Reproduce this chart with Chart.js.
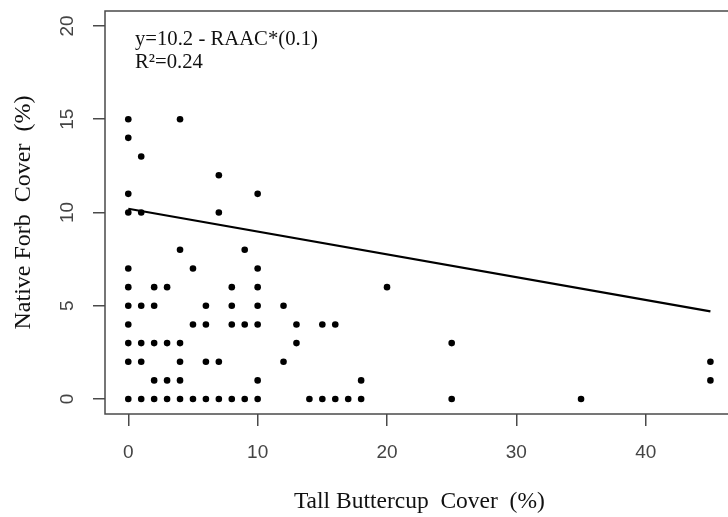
<!DOCTYPE html>
<html>
<head>
<meta charset="utf-8">
<script src="https://cdn.jsdelivr.net/npm/chart.js@4/dist/chart.umd.min.js"></script>
<style>
  html, body { margin: 0; padding: 0; background: #ffffff; overflow: hidden; width: 728px; height: 517px; }
  canvas { display: block; }
</style>
</head>
<body>
<canvas id="c" width="737" height="517"></canvas>
<script>
// Tall buttercup cover (%) for each plot
const buttercupCover = [
  0,0,0,0,0,0,0,0,0,0,0,
  1,1,1,1,1,1,
  2,2,2,2,2,
  3,3,3,3,
  4,4,4,4,4,4,
  5,5,5,
  6,6,6,6,
  7,7,7,7,
  8,8,8,8,
  9,9,9,
  10,10,10,10,10,10,10,
  12,12,
  13,13,
  14,
  15,15,
  16,16,
  17,
  18,18,
  20,
  25,25,
  35,
  45,45
];
// Native forb cover (%) for each plot
const forbCover = [
  15,14,11,10,7,6,5,4,3,2,0,
  13,10,5,3,2,0,
  6,5,3,1,0,
  6,3,1,0,
  15,8,3,2,1,0,
  7,4,0,
  5,4,2,0,
  12,10,2,0,
  6,5,4,0,
  8,4,0,
  11,7,6,5,4,1,0,
  5,2,
  4,3,
  0,
  4,0,
  4,0,
  0,
  1,0,
  6,
  3,0,
  0,
  2,1
];
// Fitted regression line end points
const fitX = [0, 45];
const fitY = [10.2, 4.7];

const xTickValues = [0, 10, 20, 30, 40];
const yTickValues = [0, 5, 10, 15, 20];
const xTitle = 'Tall Buttercup  Cover  (%)';
const yTitle = 'Native Forb  Cover  (%)';
const equationLines = ['y=10.2 - RAAC*(0.1)', 'R\u00B2=0.24'];

const scatterData = buttercupCover.map((x, i) => ({ x: x, y: forbCover[i] }));
const lineData = fitX.map((x, i) => ({ x: x, y: fitY[i] }));

const axisColor = '#4a4a4a';
const sansFont = "'Liberation Sans', Arial, sans-serif";
const serifFont = "'Liberation Serif', 'Times New Roman', serif";

const boxPlugin = {
  id: 'box',
  afterDraw(chart) {
    const { ctx, chartArea } = chart;
    ctx.save();
    ctx.strokeStyle = axisColor;
    ctx.lineWidth = 1.5;
    ctx.strokeRect(chartArea.left, chartArea.top, chartArea.right - chartArea.left, chartArea.bottom - chartArea.top);
    ctx.fillStyle = '#111111';
    ctx.font = "20.7px " + serifFont;
    ctx.textAlign = 'left';
    ctx.textBaseline = 'alphabetic';
    ctx.fillText(equationLines[0], 135, 45);
    ctx.fillText(equationLines[1], 135, 68);
    ctx.restore();
  }
};

new Chart(document.getElementById('c'), {
  type: 'scatter',
  data: {
    datasets: [
      {
        type: 'scatter',
        data: scatterData,
        backgroundColor: '#000000',
        borderColor: '#000000',
        borderWidth: 0,
        pointRadius: 3.3,
        pointHoverRadius: 3.3
      },
      {
        type: 'line',
        data: lineData,
        borderColor: '#000000',
        borderWidth: 2.2,
        pointRadius: 0,
        fill: false,
        tension: 0
      }
    ]
  },
  options: {
    responsive: false,
    animation: false,
    events: [],
    layout: { padding: { top: 11, left: 0, right: 0, bottom: 0 } },
    plugins: { legend: { display: false }, tooltip: { enabled: false } },
    scales: {
      x: {
        type: 'linear',
        position: 'bottom',
        min: -1.8,
        max: 46.8,
        afterBuildTicks: (s) => { s.ticks = xTickValues.map(v => ({ value: v })); },
        afterFit: (s) => { s.height = 103; s.paddingLeft = 0; s.paddingRight = 0; },
        border: { display: false },
        grid: { drawOnChartArea: false, drawTicks: true, tickLength: 12, color: axisColor, lineWidth: 1.5 },
        ticks: { color: '#444444', font: { family: sansFont, size: 19 }, padding: 15, maxRotation: 0, autoSkip: false },
        title: { display: true, text: xTitle, color: '#111111', font: { family: serifFont, size: 23.5 }, padding: { top: 0, bottom: 1 } }
      },
      y: {
        type: 'linear',
        position: 'left',
        min: -0.8,
        max: 20.8,
        afterBuildTicks: (s) => { s.ticks = yTickValues.map(v => ({ value: v })); },
        afterFit: (s) => { s.width = 105; s.paddingTop = 0; s.paddingBottom = 0; },
        border: { display: false },
        grid: { drawOnChartArea: false, drawTicks: true, tickLength: 12, color: axisColor, lineWidth: 1.5 },
        ticks: { color: '#444444', font: { family: sansFont, size: 19 }, padding: 15, minRotation: 90, maxRotation: 90, crossAlign: 'center', autoSkip: false },
        title: { display: true, text: yTitle, color: '#111111', font: { family: serifFont, size: 24 }, padding: { top: 9, bottom: 0 } }
      }
    }
  },
  plugins: [boxPlugin]
});
</script>
</body>
</html>
